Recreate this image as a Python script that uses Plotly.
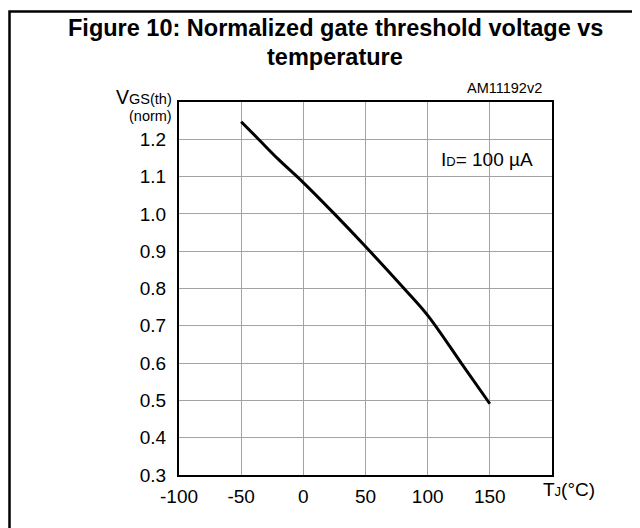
import plotly.graph_objects as go

# Data
temperature_c = [-50, -36, -20, 0, 25, 50, 81, 100, 127, 150]
vgs_th_norm = [1.247, 1.200, 1.146, 1.084, 1.000, 0.9125, 0.800, 0.728, 0.600, 0.491]

x_tick_vals = [-100, -50, 0, 50, 100, 150]
x_tick_text = ["-100", "-50", "0", "50", "100", "150"]
y_tick_vals = [0.3, 0.4, 0.5, 0.6, 0.7, 0.8, 0.9, 1.0, 1.1, 1.2]
y_tick_text = ["0.3", "0.4", "0.5", "0.6", "0.7", "0.8", "0.9", "1.0", "1.1", "1.2"]

FONT = "Liberation Sans, Arial, sans-serif"

# plot area in pixels
L, R, T, B = 171, 544, 94, 467
W, H = 640, 528

def px(xp):
    return (xp - L) / (R - L)

def py(yp):
    return (B - yp) / (B - T)

fig = go.Figure()
fig.add_trace(go.Scatter(
    x=temperature_c, y=vgs_th_norm, mode="lines",
    line=dict(color="black", width=3, shape="spline", smoothing=1.0),
    hoverinfo="skip", showlegend=False,
))

fig.update_layout(
    width=W, height=H,
    margin=dict(l=L, r=W - R, t=T, b=H - B, pad=0),
    paper_bgcolor="white", plot_bgcolor="white",
    font=dict(family=FONT, color="black", size=19),
    showlegend=False,
)

fig.update_xaxes(
    range=[-100, 200], tickvals=x_tick_vals, ticktext=x_tick_text,
    showgrid=True, gridcolor="#a3a3a3", gridwidth=1.4,
    showline=True, linecolor="black", linewidth=2.3, mirror=True,
    ticks="", ticklabelstandoff=3, zeroline=False,
    tickfont=dict(size=19, family=FONT, color="black"),
)
fig.update_yaxes(
    range=[0.3, 1.3], tickvals=y_tick_vals, ticktext=y_tick_text,
    showgrid=True, gridcolor="#a3a3a3", gridwidth=1.4,
    showline=True, linecolor="black", linewidth=2.3, mirror=True,
    ticks="", ticklabelstandoff=7, zeroline=False,
    tickfont=dict(size=19, family=FONT, color="black"),
)

# outer frame
fig.add_shape(type="rect", xref="paper", yref="paper",
              x0=px(1.5), x1=px(638.5), y0=py(560), y1=py(3.5),
              line=dict(color="black", width=2.5), fillcolor="rgba(0,0,0,0)", layer="below")

annos = [
    dict(text="<b>Figure 10: Normalized gate threshold voltage vs</b>", x=px(327), y=py(20),
         xanchor="center", yanchor="middle", font=dict(size=23.5)),
    dict(text="<b>temperature</b>", x=px(327), y=py(49),
         xanchor="center", yanchor="middle", font=dict(size=23.5)),
    dict(text="AM11192v2", x=px(536), y=py(80), xanchor="right", yanchor="middle",
         font=dict(size=14.5)),
    dict(text="V<span style='font-size:14.5px'>GS(th)</span>", x=px(166), y=py(89),
         xanchor="right", yanchor="middle", font=dict(size=19.5)),
    dict(text="(norm)", x=px(166), y=py(108), xanchor="right", yanchor="middle",
         font=dict(size=14.5)),
    dict(text="I<span style='font-size:13px'>D</span>= 100 µA", x=px(431), y=py(151),
         xanchor="left", yanchor="middle", font=dict(size=19)),
    dict(text="T<span style='font-size:13px'>J</span>(°C)", x=px(533), y=py(481),
         xanchor="left", yanchor="middle", font=dict(size=19)),
]
for a in annos:
    a.update(xref="paper", yref="paper", showarrow=False)
    f = a["font"]
    f.update(family=FONT, color="black")
    fig.add_annotation(**a)

fig.write_html("out.html")
